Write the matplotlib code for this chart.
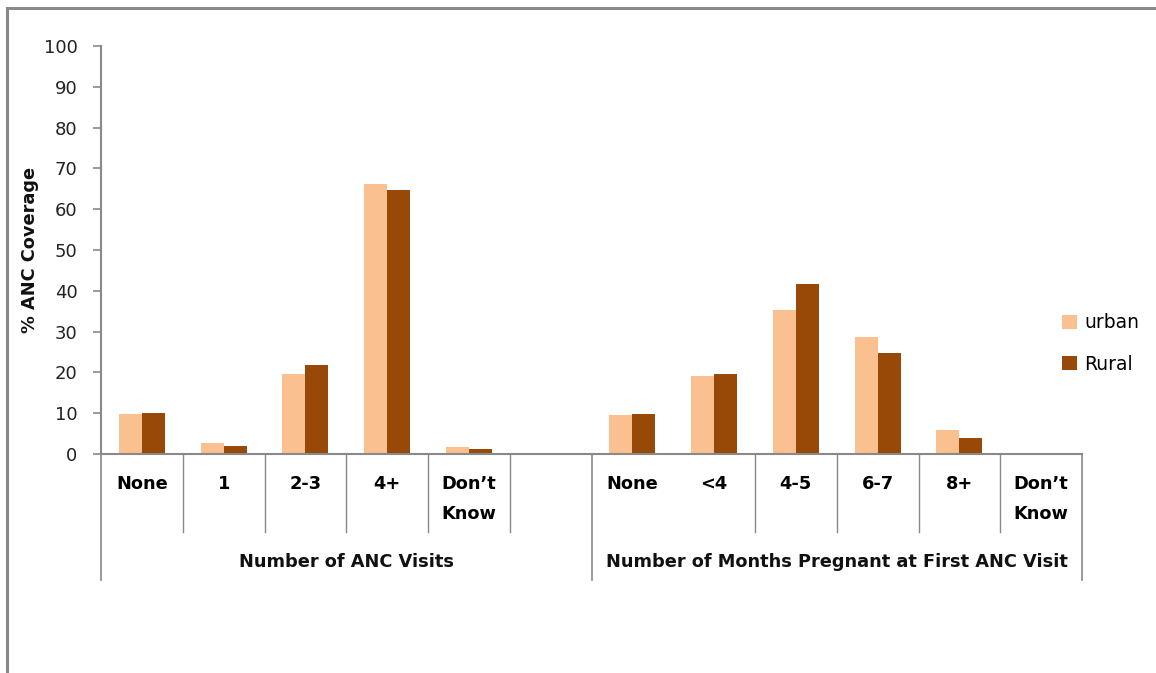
import matplotlib
matplotlib.use("Agg")
import matplotlib.pyplot as plt
import numpy as np
from matplotlib.lines import Line2D
from matplotlib.patches import Patch

# ---- data ----
visit_cats = ["None", "1", "2-3", "4+", "Don\u2019t\nKnow", ""]
month_cats = ["None", "<4", "4-5", "6-7", "8+", "Don\u2019t\nKnow"]
group_labels = ["Number of ANC Visits", "Number of Months Pregnant at First ANC Visit"]
urban = [9.8, 2.75, 19.6, 66.2, 1.75, np.nan, 9.6, 19.1, 35.3, 28.7, 5.9, 0.3]
rural = [10.0, 2.0, 21.8, 64.6, 1.25, np.nan, 9.8, 19.6, 41.7, 24.8, 3.9, 0.35]
series_names = ["urban", "Rural"]
colors = ["#FAC090", "#984807"]
yticks = [0, 10, 20, 30, 40, 50, 60, 70, 80, 90, 100]

categories = visit_cats + month_cats
W, H = 1156, 673
fig = plt.figure(figsize=(W / 100, H / 100), dpi=100)
ax = fig.add_axes([101 / W, 1 - 454 / H, (1082 - 101) / W, 408 / H])

x = np.arange(len(categories))
bw = 0.28
ax.bar(x - bw / 2, urban, bw, color=colors[0], label=series_names[0])
ax.bar(x + bw / 2, rural, bw, color=colors[1], label=series_names[1])

gray = "#898989"
ax.set_xlim(-0.5, len(categories) - 0.5)
ax.set_ylim(0, 100)
ax.set_yticks(yticks)
ax.set_yticklabels([str(t) for t in yticks], fontsize=13, color="#222222")
ax.tick_params(axis="y", direction="out", length=6, width=1.2, color=gray, pad=11)
ax.set_xticks(x)
ax.set_xticklabels(categories, fontsize=12.8, fontweight="bold", linespacing=1.85)
ax.tick_params(axis="x", length=0, pad=15)
for s in ["top", "right"]:
    ax.spines[s].set_visible(False)
for s in ["left", "bottom"]:
    ax.spines[s].set_color(gray)
    ax.spines[s].set_linewidth(1.5)

# category dividers
tr = ax.get_xaxis_transform()
short_y = -(532 - 454) / 408
tall_y = -(580 - 454) / 408
n1 = len(visit_cats)
n = len(categories)
for b in range(n + 1):
    xb = b - 0.5
    if b in (0, n1, n):
        ax.plot([xb, xb], [0, tall_y], transform=tr, color=gray, lw=1.2, clip_on=False)
    elif b != n1 + 1:
        ax.plot([xb, xb], [0, short_y], transform=tr, color=gray, lw=1.0, clip_on=False)

# group labels
gy = -(562 - 454) / 408
ax.text((n1 - 1) / 2, gy, group_labels[0], transform=tr, ha="center", va="center",
        fontsize=12.8, fontweight="bold", color="#111111")
ax.text(n1 + (n - n1 - 1) / 2, gy, group_labels[1], transform=tr, ha="center", va="center",
        fontsize=12.8, fontweight="bold", color="#111111")

# y label
fig.text(30 / W, 1 - 250 / H, "% ANC Coverage", rotation=90, ha="center", va="center",
         fontsize=12.8, fontweight="bold", color="#111111")

# legend
handles = [Patch(facecolor=c, edgecolor="none") for c in colors]
fig.legend(handles, series_names, loc="center left", bbox_to_anchor=(1062 / W, 1 - 343.5 / H),
           frameon=False, fontsize=13.5, handlelength=0.8, handleheight=0.8,
           handletextpad=0.4, labelspacing=1.2, borderpad=0, borderaxespad=0)

# outer chart border (top and left visible)
fig.add_artist(Line2D([7 / W, 1], [1 - 7.5 / H, 1 - 7.5 / H], transform=fig.transFigure,
                      color=gray, lw=2.2))
fig.add_artist(Line2D([7 / W, 7 / W], [1 - 7.5 / H, 0], transform=fig.transFigure,
                      color=gray, lw=2.2))

fig.savefig("out.png", dpi=100)
